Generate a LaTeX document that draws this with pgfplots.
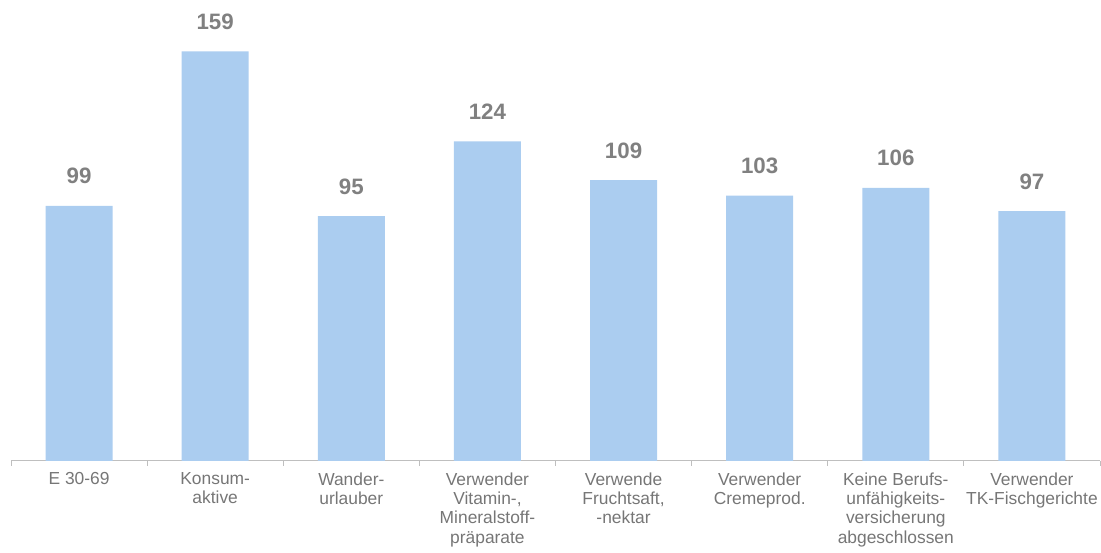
\documentclass[border=0pt]{standalone}
\usepackage{pgfplots}
\pgfplotsset{compat=1.18}
\usepackage{fontspec}
\setmainfont{Liberation Sans}
\definecolor{barblue}{RGB}{171,205,240}
\definecolor{txtgray}{RGB}{118,118,118}
\definecolor{valgray}{RGB}{128,128,128}
\definecolor{axgray}{RGB}{191,191,191}
\begin{document}
\begin{tikzpicture}
\begin{axis}[name=ax, scale only axis, width=1089pt, height=461pt,
  xmin=-0.5, xmax=7.5, ymin=0, ymax=178.9,
  axis y line=none, axis x line*=bottom,
  axis line style={axgray, line width=1pt},
  xtick={0,...,7}, major tick length=0pt,
  minor xtick={-0.5,0.5,...,7.5}, minor tick length=5pt, tick align=outside,
  minor tick style={axgray, line width=1pt},
  /pgf/number format/assume math mode=true,
  xticklabels={{E 30-69},{Konsum-\\aktive},{Wander-\\urlauber},{Verwender\\Vitamin-,\\Mineralstoff-\\präparate},{Verwende\\Fruchtsaft,\\-nektar},{Verwender\\Cremeprod.},{Keine Berufs-\\unfähigkeits-\\versicherung\\abgeschlossen},{Verwender\\TK-Fischgerichte}},
  xticklabel style={font=\fontsize{17.4}{19.3}\selectfont, text=txtgray, align=center, anchor=north, yshift=-8pt},
  ybar, bar width=67pt,
  nodes near coords,
  every node near coord/.append style={font=\fontsize{22.3}{24}\selectfont\bfseries, text=valgray, anchor=base, yshift=22pt},
  clip=false]
\addplot[fill=barblue, draw=none] coordinates {(0,99) (1,159) (2,95) (3,124) (4,109) (5,103) (6,106) (7,97)};
\end{axis}
\pgfresetboundingbox
\path ([shift={(-11pt,-92pt)}]ax.south west) rectangle ++(1101pt,553pt);
\end{tikzpicture}
\end{document}
